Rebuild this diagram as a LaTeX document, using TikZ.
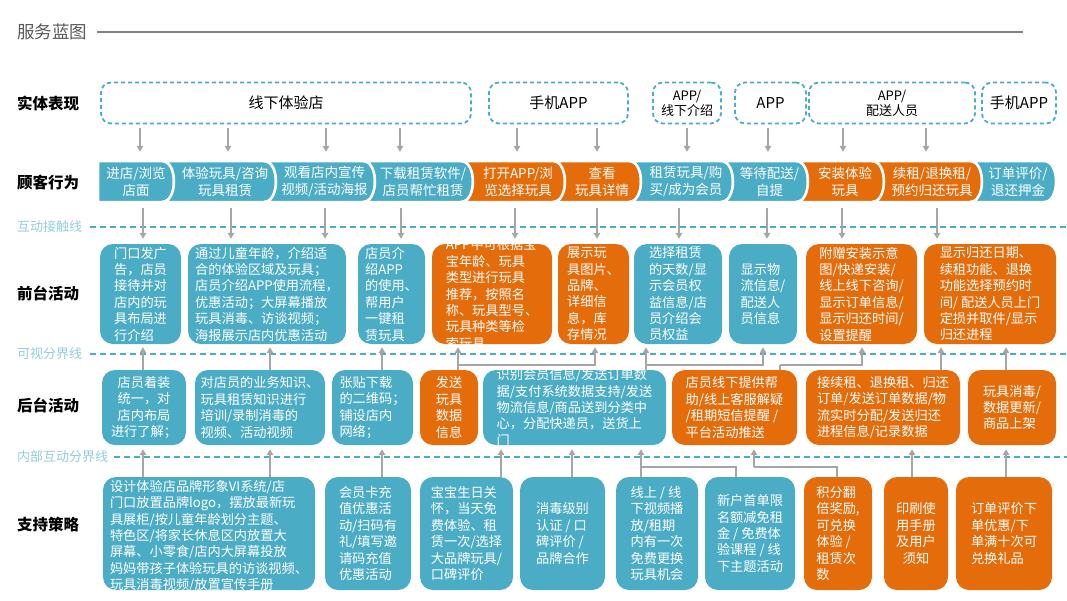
\documentclass[tikz,border=0pt]{standalone}
\usepackage{fontspec}
\setmainfont{Noto Sans CJK SC}
\usetikzlibrary{arrows.meta}
\definecolor{bteal}{HTML}{4BACC6}
\definecolor{borange}{HTML}{E46C0A}
\definecolor{agray}{HTML}{A6A6A6}
\definecolor{llab}{HTML}{92CDDC}
\definecolor{tgray}{HTML}{595959}
\definecolor{lgray}{HTML}{808080}
\newcommand\chevshape[3]{%
  \path[fill=#3, draw=white, line width=2.5pt] (#1,161) -- ({#2-12},161) .. controls ({#2+4},161) and ({#2+4},202) .. ({#2-12},202) -- (#1,202) .. controls ({#1+16},202) and ({#1+16},161) .. (#1,161) -- cycle;}
\begin{document}
\begin{tikzpicture}[x=1pt,y=-1pt,
  rowlab/.style={anchor=west, font=\fontsize{15.5}{18}\selectfont\bfseries, text=black, inner sep=0pt},
  linelab/.style={anchor=west, font=\fontsize{13}{15}\selectfont, text=llab, inner sep=0pt},
  sepline/.style={draw=bteal, line width=1.8pt, dash pattern=on 6pt off 4pt},
  phys/.style={draw=bteal, line width=1.8pt, dash pattern=on 4pt off 3pt, rounded corners=10pt, inner sep=0pt, text=black, align=center, minimum height=41pt, font=\fontsize{15}{17}\selectfont},
  physs/.style={phys, font=\fontsize{13}{15}\selectfont},
  arr/.style={draw=agray, line width=1.5pt, -{Triangle[length=6pt,width=6.5pt]}},
  ln/.style={draw=agray, line width=1.5pt},
  ctext/.style={text=white, font=\fontsize{13.5}{17}\selectfont, align=center, inner sep=0pt, minimum height=41pt},
  box/.style={rounded corners=13pt, text=white, font=\fontsize{13.2}{16.4}\selectfont, inner sep=0pt, align=left},
  tb/.style={box, fill=bteal},
  ob/.style={box, fill=borange},
  wtxt/.style={text=white, font=\fontsize{13.2}{16.4}\selectfont, inner sep=0pt, align=left}
]
\useasboundingbox (0,0) rectangle (1067,600);

% title
\node[anchor=west, inner sep=0pt, text=tgray, font=\fontsize{17.5}{20}\selectfont] (title) at (17,32) {服务蓝图};
\coordinate (tlend) at (1023,33);
\draw[lgray, line width=1.8pt] ([xshift=10pt]title.east) -- (tlend |- title.east);

% row labels
\node[rowlab] (lab1) at (17,103) {实体表现};
\node[rowlab] (lab2) at (17,183) {顾客行为};
\node[rowlab] (lab3) at (17,293) {前台活动};
\node[rowlab] (lab4) at (17,405) {后台活动};
\node[rowlab] (lab5) at (17,525) {支持策略};

% separator lines
\node[linelab] (sl1) at (17,227) {互动接触线};
\node[linelab] (sl2) at (17,354) {可视分界线};
\node[linelab] (sl3) at (17,457) {内部互动分界线};
\coordinate (sle) at (1067,0);
\draw[sepline] ([xshift=8pt]sl1.east) -- (sle |- sl1.east);
\draw[sepline] ([xshift=8pt]sl2.east) -- (sle |- sl2.east);
\draw[sepline] ([xshift=6pt]sl3.east) -- (sle |- sl3.east);

% row 1: physical evidence
\node[phys, minimum width=370pt] (p1) at (286,103) {线下体验店};
\node[phys, minimum width=139pt] (p2) at (558.5,103) {手机APP};
\node[physs, minimum width=68pt] (p3) at (687,103) {APP/\\线下介绍};
\node[phys, minimum width=71pt] (p4) at (770.5,103) {APP};
\node[physs, minimum width=166pt] (p5) at (892,103) {APP/\\配送人员};
\node[phys, minimum width=74pt] (p6) at (1019,103) {手机APP};

% row 2: customer actions (chevrons)
\path[fill=bteal, draw=white, line width=2.5pt] (98,161) -- (162,161) .. controls (178,161) and (178,202) .. (162,202) -- (98,202) -- cycle;
\chevshape{162}{276}{bteal}
\chevshape{264}{375}{bteal}
\chevshape{363}{473}{bteal}
\chevshape{461}{565}{borange}
\chevshape{553}{641}{borange}
\chevshape{629}{733}{bteal}
\chevshape{721}{808}{bteal}
\chevshape{796}{884}{borange}
\chevshape{872}{982}{borange}
\chevshape{970}{1056}{bteal}
\node[ctext] (c1) at (136,181.5) {进店/浏览\\店面};
\node[ctext] (c2) at (225,181.5) {体验玩具/咨询\\玩具租赁};
\node[ctext] (c3) at (324.5,181.5) {观看店内宣传\\视频/活动海报};
\node[ctext] (c4) at (423,181.5) {下载租赁软件/\\店员帮忙租赁};
\node[ctext] (c5) at (518,181.5) {打开APP/浏\\览选择玩具};
\node[ctext] (c6) at (602,181.5) {查看\\玩具详情};
\node[ctext] (c7) at (686,181.5) {租赁玩具/购\\买/成为会员};
\node[ctext] (c8) at (769.5,181.5) {等待配送/\\自提};
\node[ctext] (c9) at (845,181.5) {安装体验\\玩具};
\node[ctext] (c10) at (932,181.5) {续租/退换租/\\预约归还玩具};
\node[ctext] (c11) at (1018,181.5) {订单评价/\\退还押金};

% row 3: front stage
\node[tb, minimum width=81pt, minimum height=100pt] (f1) at (140.5,294) {门口发广\\告，店员\\接待并对\\店内的玩\\具布局进\\行介绍};
\node[tb, minimum width=158pt, minimum height=100pt] (f2) at (267,294) {通过儿童年龄，介绍适\\合的体验区域及玩具；\\店员介绍APP使用流程，\\优惠活动；大屏幕播放\\玩具消毒、访谈视频；\\海报展示店内优惠活动};
\node[tb, minimum width=67pt, minimum height=100pt] (f3) at (391.5,294) {店员介\\绍APP\\的使用、\\帮用户\\一键租\\赁玩具};
\node[ob, minimum width=120pt, minimum height=100pt] (f4) at (492,294) {};
\begin{scope}
  \clip[rounded corners=13pt] (f4.south west) rectangle (f4.north east);
  \node[wtxt] (f4t) at (f4.center) {APP中可根据宝\\宝年龄、玩具\\类型进行玩具\\推荐，按照名\\称、玩具型号、\\玩具种类等检\\索玩具};
\end{scope}
\node[ob, minimum width=71pt, minimum height=100pt] (f5) at (593.5,294) {展示玩\\具图片、\\品牌、\\详细信\\息，库\\存情况};
\node[tb, minimum width=88pt, minimum height=100pt] (f6) at (678,294) {选择租赁\\的天数/显\\示会员权\\益信息/店\\员介绍会\\员权益};
\node[tb, minimum width=68pt, minimum height=100pt] (f7) at (763,294) {显示物\\流信息/\\配送人\\员信息};
\node[ob, minimum width=111pt, minimum height=100pt] (f8) at (861.5,294) {附赠安装示意\\图/快递安装/\\线上线下咨询/\\显示订单信息/\\显示归还时间/\\设置提醒};
\node[ob, minimum width=132pt, minimum height=100pt] (f9) at (990,294) {显示归还日期、\\续租功能、退换\\功能选择预约时\\间/ 配送人员上门\\定损并取件/显示\\归还进程};

% row 4: back stage
\node[tb, minimum width=84pt, minimum height=75pt, align=center] (b1) at (144,407.5) {店员着装\\统一，对\\店内布局\\进行了解；};
\node[tb, minimum width=130pt, minimum height=75pt] (b2) at (260,407.5) {对店员的业务知识、\\玩具租赁知识进行\\培训/录制消毒的\\视频、活动视频};
\node[tb, minimum width=81pt, minimum height=75pt] (b3) at (372.5,407.5) {张贴下载\\的二维码；\\铺设店内\\网络；};
\node[ob, minimum width=58pt, minimum height=75pt] (b4) at (449,407.5) {发送\\玩具\\数据\\信息};
\node[tb, minimum width=183pt, minimum height=75pt] (b5) at (574.5,407.5) {};
\begin{scope}
  \clip[rounded corners=13pt] (b5.south west) rectangle (b5.north east);
  \node[wtxt] (b5t) at (b5.center) {识别会员信息/发送订单数\\据/支付系统数据支持/发送\\物流信息/商品送到分类中\\心，分配快递员，送货上\\门};
\end{scope}
\node[ob, minimum width=125pt, minimum height=75pt] (b6) at (734.5,407.5) {店员线下提供帮\\助/线上客服解疑\\/租期短信提醒 /\\平台活动推送};
\node[ob, minimum width=154pt, minimum height=75pt] (b7) at (883,407.5) {接续租、退换租、归还\\订单/发送订单数据/物\\流实时分配/发送归还\\进程信息/记录数据};
\node[ob, minimum width=88pt, minimum height=75pt] (b8) at (1012,407.5) {玩具消毒/\\数据更新/\\商品上架};

% row 5: support
\node[tb, minimum width=212pt, minimum height=113pt] (s1) at (209,533.5) {};
\begin{scope}
  \clip[rounded corners=13pt] (s1.south west) rectangle (s1.north east);
  \node[wtxt] (s1t) at (209,536) {设计体验店品牌形象VI系统/店\\门口放置品牌logo，摆放最新玩\\具展柜/按儿童年龄划分主题、\\特色区/将家长休息区内放置大\\屏幕、小零食/店内大屏幕投放\\妈妈带孩子体验玩具的访谈视频、\\玩具消毒视频/放置宣传手册};
\end{scope}
\node[tb, minimum width=86pt, minimum height=113pt] (s2) at (368,533.5) {会员卡充\\值优惠活\\动/扫码有\\礼/填写邀\\请码充值\\优惠活动};
\node[tb, minimum width=93pt, minimum height=113pt] (s3) at (466.5,533.5) {宝宝生日关\\怀，当天免\\费体验、租\\赁一次/选择\\大品牌玩具/\\口碑评价};
\node[tb, minimum width=85pt, minimum height=113pt] (s4) at (562.5,533.5) {消毒级别\\认证 / 口\\碑评价 /\\品牌合作};
\node[tb, minimum width=82pt, minimum height=113pt] (s5) at (657,533.5) {线上 / 线\\下视频播\\放/租期\\内有一次\\免费更换\\玩具机会};
\node[tb, minimum width=90pt, minimum height=113pt] (s6) at (750,533.5) {新户首单限\\名额减免租\\金 / 免费体\\验课程 / 线\\下主题活动};
\node[ob, minimum width=68pt, minimum height=113pt] (s7) at (838,533.5) {积分翻\\倍奖励,\\可兑换\\体验 /\\租赁次\\数};
\node[ob, minimum width=64pt, minimum height=113pt, align=center] (s8) at (916,533.5) {印刷使\\用手册\\及用户\\须知};
\node[ob, minimum width=96pt, minimum height=113pt] (s9) at (1004,533.5) {订单评价下\\单优惠/下\\单满十次可\\兑换礼品};

% arrows row1 -> row2
\foreach \xx/\a/\b in {140/p1/c1, 228/p1/c2, 326/p1/c3, 400/p1/c4, 517/p2/c5, 597/p2/c6, 687/p3/c7, 768/p4/c8, 843/p5/c9, 926/p5/c10}
  \draw[arr, shorten <=4pt, shorten >=9pt] (\xx,0 |- \a.south) -- (\xx,0 |- \b.north);

% arrows row2 -> row3
\foreach \xx/\a/\b in {143/c1/f1, 231/c2/f2, 325/c3/f2, 401/c4/f3, 515/c5/f4, 597/c6/f5, 679/c7/f6, 767/c8/f7, 842/c9/f8, 937/c10/f9}
  \draw[arr, shorten <=6pt, shorten >=5pt] (\xx,0 |- \a.south) -- (\xx,0 |- \b.north);

% arrows row4 -> row3
\foreach \xx/\a/\b in {143/b1/f1, 270/b2/f2, 382/b3/f3, 458/b4/f4, 646/b5/f6, 941/b7/f9, 1006/b8/f9}
  \draw[arr, shorten >=3pt] (\xx,0 |- \a.north) -- (\xx,0 |- \b.south);
\coordinate (j1) at (458,365);
\coordinate (j2) at (646,365);
\coordinate (j3) at (780,365);
\draw[arr, shorten >=3pt] (j1) -| (595,0 |- f5.south);
\draw[arr, shorten >=3pt] (j2) -| (763,0 |- f7.south);
\draw[ln] (780,0 |- b6.north) -- (j3);
\draw[arr, shorten >=3pt] (j3) -| (862,0 |- f8.south);

% arrows row5 -> row4
\foreach \xx/\a/\b in {143/s1/b1, 270/s1/b2, 382/s2/b3, 501/s3/b5, 572/s4/b5, 641/s5/b5, 912/s8/b7, 1006/s9/b8}
  \draw[arr, shorten >=4pt] (\xx,0 |- \a.north) -- (\xx,0 |- \b.south);
\coordinate (k1) at (641,467);
\coordinate (k2) at (754,467);
\draw[ln] (736,0 |- s6.north) |- (k1);
\draw[ln] (837,0 |- s7.north) |- (k2);
\draw[arr, shorten >=4pt] (k2) -- (754,0 |- b6.south);
\end{tikzpicture}
\end{document}
